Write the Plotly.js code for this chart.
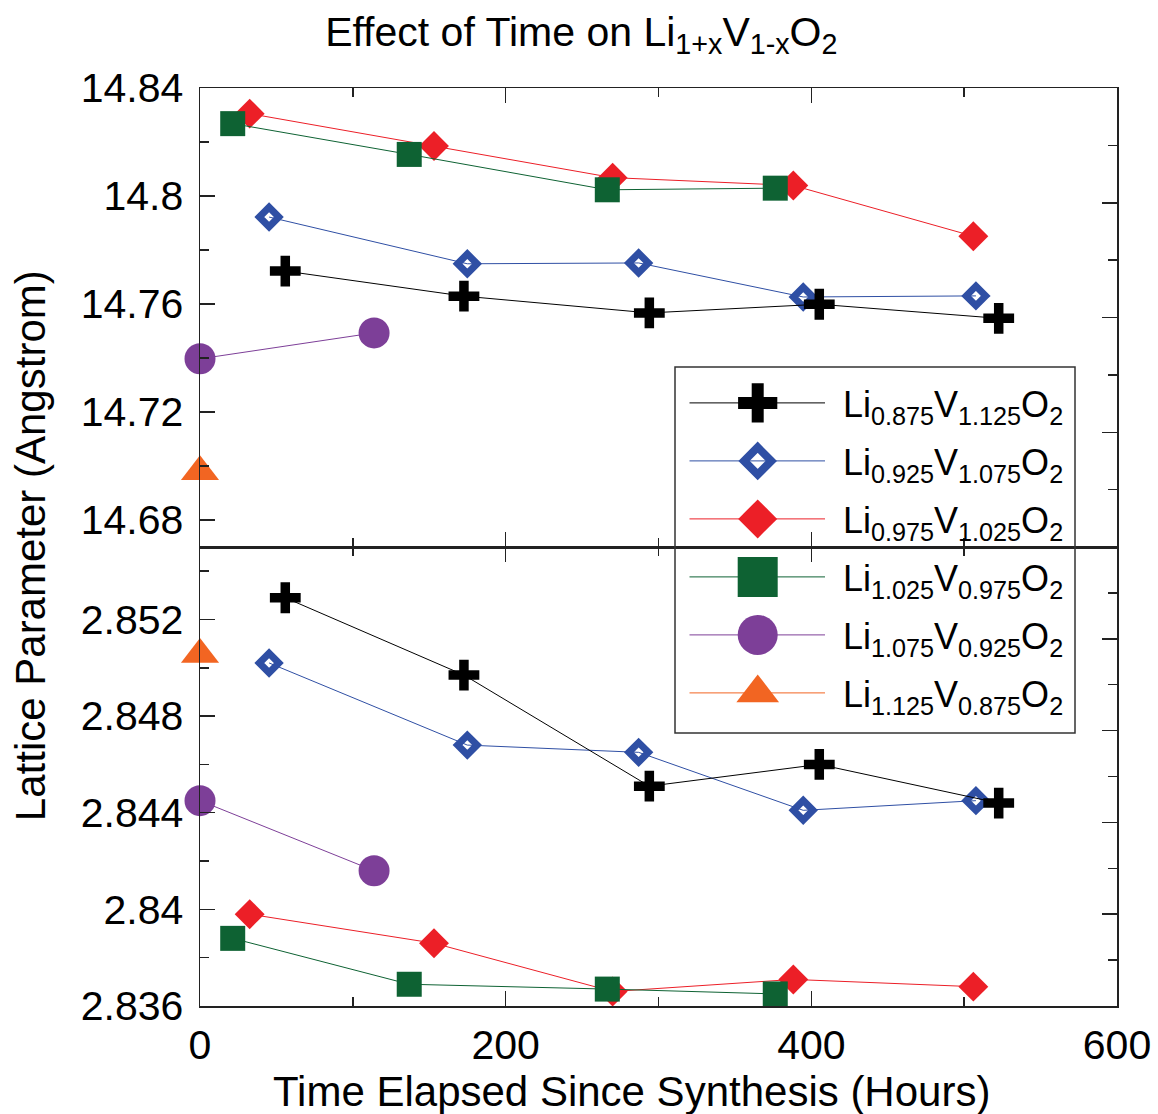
<!DOCTYPE html>
<html>
<head>
<meta charset="utf-8">
<script src="https://cdn.plot.ly/plotly-3.0.1.min.js"></script>
<style>
html,body{margin:0;padding:0;background:#fff;}
#chart{width:1158px;height:1114px;}
</style>
</head>
<body>
<div id="chart"></div>
<script>
// ---------------- DATA ----------------
const seriesLabels = [
  'Li<sub>0.875</sub>V<sub>1.125</sub>O<sub>2</sub>',
  'Li<sub>0.925</sub>V<sub>1.075</sub>O<sub>2</sub>',
  'Li<sub>0.975</sub>V<sub>1.025</sub>O<sub>2</sub>',
  'Li<sub>1.025</sub>V<sub>0.975</sub>O<sub>2</sub>',
  'Li<sub>1.075</sub>V<sub>0.925</sub>O<sub>2</sub>',
  'Li<sub>1.125</sub>V<sub>0.875</sub>O<sub>2</sub>'
];

// time elapsed since synthesis (hours)
const hours_0875 = [55.8, 172.7, 294.0, 405.2, 522.6];
const hours_0925 = [45.2, 174.9, 287.0, 394.7, 507.7];
const hours_0975 = [32.5, 153.1, 270.0, 388.2, 506.0];
const hours_1025 = [21.4, 136.9, 266.5, 376.4];
const hours_1075 = [0, 113.9];
const hours_1125 = [0];

// c lattice parameter (Angstrom) - upper panel
const c_0875 = [14.7722, 14.7629, 14.7567, 14.7599, 14.7547];
const c_0925 = [14.7922, 14.7749, 14.7752, 14.7626, 14.7630];
const c_0975 = [14.8305, 14.8185, 14.8068, 14.8039, 14.7851];
const c_1025 = [14.8268, 14.8154, 14.8023, 14.8029];
const c_1075 = [14.7397, 14.7493];
const c_1125 = [14.6979];

// a lattice parameter (Angstrom) - lower panel
const a_0875 = [2.8529, 2.8497, 2.8451, 2.8460, 2.8444];
const a_0925 = [2.8502, 2.8468, 2.8465, 2.8441, 2.8445];
const a_0975 = [2.8398, 2.8386, 2.8366, 2.8371, 2.8368];
const a_1025 = [2.8388, 2.8369, 2.8367, 2.8365];
const a_1075 = [2.8445, 2.8416];
const a_1125 = [2.85055];

const titleText = 'Effect of Time on Li<sub>1+x</sub>V<sub>1-x</sub>O<sub>2</sub>';
const xTitleText = 'Time Elapsed Since Synthesis (Hours)';
const yTitleText = 'Lattice Parameter (Angstrom)';

// ---------------- STYLE ----------------
const hoursList = [hours_0875, hours_0925, hours_0975, hours_1025, hours_1075, hours_1125];
const cList = [c_0875, c_0925, c_0975, c_1025, c_1075, c_1125];
const aList = [a_0875, a_0925, a_0975, a_1025, a_1075, a_1125];

const STYLE = [
  {color:'#000000', symbol:'cross-thin',   size:22, lw:9.5, lsize:28, llw:12},
  {color:'#2f4fa4', symbol:'diamond-open', size:15, lw:7,   lsize:21, llw:8},
  {color:'#ec1f27', symbol:'diamond',      size:23, lw:0,   lsize:30, llw:0},
  {color:'#0e6233', symbol:'square',       size:25, lw:0,   lsize:40, llw:0},
  {color:'#7d3f98', symbol:'circle',       size:31, lw:0,   lsize:40, llw:0},
  {color:'#f26522', symbol:'triangle-up',  size:33, lw:0,   lsize:37, llw:0}
];
const drawOrder = [1, 2, 3, 4, 5, 0];

const FONT = '"Liberation Sans", Arial, Helvetica, sans-serif';
const AX = '#222';

const traces = [];
drawOrder.forEach(function(i){
  const s = STYLE[i];
  const mk = {symbol:s.symbol, size:s.size, color:s.color, line:{color:s.color, width:s.lw}};
  traces.push({type:'scatter', mode:'lines+markers', x:hoursList[i], y:cList[i],
    xaxis:'x2', yaxis:'y2', line:{color:s.color, width:1}, marker:mk,
    cliponaxis:false, showlegend:false, hoverinfo:'skip'});
  traces.push({type:'scatter', mode:'lines+markers', x:hoursList[i], y:aList[i],
    xaxis:'x', yaxis:'y', line:{color:s.color, width:1}, marker:mk,
    cliponaxis:false, showlegend:false, hoverinfo:'skip'});
});

// empty traces so the right-hand tick axes are drawn
traces.push({type:'scatter', x:[], y:[], xaxis:'x2', yaxis:'y3', showlegend:false, hoverinfo:'skip'});
traces.push({type:'scatter', x:[], y:[], xaxis:'x', yaxis:'y4', showlegend:false, hoverinfo:'skip'});

// ---------------- custom legend (pixel-space helper axes) ----------------
const LEG = {x0:675, x1:1075, y0:367, y1:733, row0:402.9, rowStep:58, lineX0:689.5, lineX1:825, markX:757.7, textX:841};
const annotations = [];
seriesLabels.forEach(function(lbl, i){
  const s = STYLE[i];
  const yRow = LEG.row0 + LEG.rowStep * i;
  traces.push({type:'scatter', mode:'lines', x:[LEG.lineX0, LEG.lineX1], y:[yRow, yRow],
    xaxis:'x3', yaxis:'y5', line:{color:s.color, width:1}, showlegend:false, hoverinfo:'skip', cliponaxis:false});
  traces.push({type:'scatter', mode:'markers', x:[LEG.markX], y:[yRow],
    xaxis:'x3', yaxis:'y5', marker:{symbol:s.symbol, size:s.lsize, color:s.color, line:{color:s.color, width:s.llw}},
    showlegend:false, hoverinfo:'skip', cliponaxis:false});
  annotations.push({xref:'x3', yref:'y5', x:LEG.textX, y:yRow, xanchor:'left', yanchor:'middle',
    text:lbl, showarrow:false, font:{family:FONT, size:36, color:'#000'}, yshift:-4});
});

// axis titles (paper coordinates: plot area spans x 200-1117 px, y 88-1006 px)
annotations.push({xref:'paper', yref:'paper', x:0.4711, y:-0.0926, xanchor:'center', yanchor:'middle',
  text:xTitleText, showarrow:false, font:{family:FONT, size:42, color:'#000'}});
annotations.push({xref:'paper', yref:'paper', x:-0.1854, y:0.502, xanchor:'center', yanchor:'middle', textangle:-90,
  text:yTitleText, showarrow:false, font:{family:FONT, size:42, color:'#000'}});

const baseAx = {showline:true, linecolor:AX, linewidth:1.5, ticks:'inside', tickcolor:AX, tickwidth:1.5,
  ticklen:15, showgrid:false, zeroline:false, tickfont:{family:FONT, size:41, color:'#000'}};
const minorX = {dtick:100, ticks:'inside', ticklen:9, tickcolor:AX, tickwidth:1.5, showgrid:false};

const layout = {
  width:1158, height:1114,
  margin:{l:200, r:41, t:88, b:108, pad:0},
  paper_bgcolor:'#ffffff', plot_bgcolor:'rgba(0,0,0,0)',
  showlegend:false,
  font:{family:FONT, size:41, color:'#000'},
  title:{text:titleText, font:{family:FONT, size:41, color:'#000'},
    xref:'container', x:0.502, xanchor:'center', yref:'container', y:0.972, yanchor:'middle'},
  xaxis: Object.assign({}, baseAx, {domain:[0,1], anchor:'y', range:[0,600], tick0:0, dtick:200,
    mirror:'ticks', minor:minorX, ticklabelstandoff:2}),
  yaxis: Object.assign({}, baseAx, {domain:[0,0.5], anchor:'x', range:[2.836,2.855], tick0:0, dtick:0.004,
    tickformat:'.4~g', mirror:true, ticklabelstandoff:7,
    minor:{dtick:0.002, ticks:'inside', ticklen:9, tickcolor:AX, tickwidth:1.5, showgrid:false}}),
  xaxis2: Object.assign({}, baseAx, {domain:[0,1], anchor:'y2', range:[0,600], tick0:0, dtick:200,
    mirror:'ticks', minor:minorX, showticklabels:false}),
  yaxis2: Object.assign({}, baseAx, {domain:[0.5,1], anchor:'x2', range:[14.67,14.84], tick0:0, dtick:0.04,
    tickformat:'.4~g', mirror:true, ticklabelstandoff:7,
    minor:{dtick:0.02, ticks:'inside', ticklen:9, tickcolor:AX, tickwidth:1.5, showgrid:false}}),
  yaxis3: {overlaying:'y2', anchor:'x2', side:'right', range:[0,4], tick0:0, dtick:1, ticks:'inside', ticklen:15,
    tickcolor:AX, tickwidth:1.5, showticklabels:false, showline:false, showgrid:false, zeroline:false,
    minor:{dtick:0.5, ticks:'inside', ticklen:9, tickcolor:AX, tickwidth:1.5, showgrid:false}},
  yaxis4: {overlaying:'y', anchor:'x', side:'right', range:[0,10], tick0:0, dtick:2, ticks:'inside', ticklen:15,
    tickcolor:AX, tickwidth:1.5, showticklabels:false, showline:false, showgrid:false, zeroline:false,
    minor:{dtick:1, ticks:'inside', ticklen:9, tickcolor:AX, tickwidth:1.5, showgrid:false}},
  xaxis3: {domain:[0,1], anchor:'y5', range:[200,1117], visible:false, fixedrange:true},
  yaxis5: {domain:[0,1], anchor:'x3', range:[1006,88], visible:false, fixedrange:true},
  shapes:[{type:'rect', xref:'x3', yref:'y5', x0:LEG.x0, x1:LEG.x1, y0:LEG.y0, y1:LEG.y1,
    line:{color:'#333', width:1.5}, fillcolor:'rgba(0,0,0,0)', layer:'above'}],
  annotations: annotations
};

Plotly.newPlot('chart', traces, layout, {displayModeBar:false, staticPlot:true});
</script>
</body>
</html>
